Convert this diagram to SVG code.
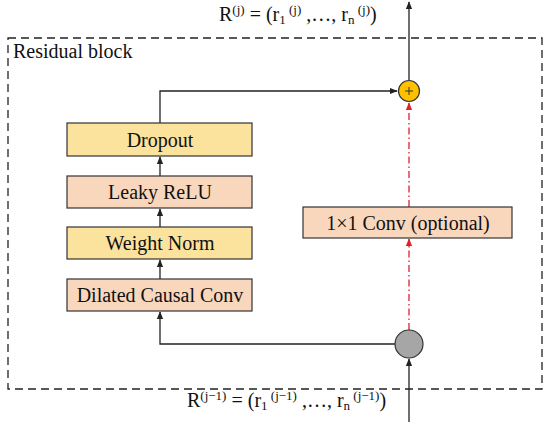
<svg xmlns="http://www.w3.org/2000/svg" width="550" height="422" viewBox="0 0 550 422">
<style>
text{font-family:"Liberation Serif","Times New Roman",serif;fill:#111}
.lbl{font-size:20px;text-anchor:middle}
.y{fill:#FBE29D;stroke:#333;stroke-width:1.2}
.p{fill:#F9D7BD;stroke:#333;stroke-width:1.2}
.ln{fill:none;stroke:#222;stroke-width:1.3}
.rd{fill:none;stroke:#E0202A;stroke-width:1.3;stroke-dasharray:7,3,1.5,3}
.sup{font-size:13px}
.f{font-size:20px}
</style>
<defs>
<marker id="ah" viewBox="0 0 10 10" refX="9" refY="5" markerWidth="6" markerHeight="6" orient="auto"><path d="M0,1 L10,5 L0,9 z" fill="#222"/></marker>
<marker id="ahr" viewBox="0 0 10 10" refX="9" refY="5" markerWidth="6" markerHeight="6" orient="auto"><path d="M0,1 L10,5 L0,9 z" fill="#E0202A"/></marker>
</defs>
<rect x="8" y="38" width="534" height="351" fill="none" stroke="#222" stroke-width="1.3" stroke-dasharray="8,5"/>
<text class="f" x="13" y="58">Residual block</text>
<g id="connectors">
<path class="ln" d="M409,422 V359" marker-end="url(#ah)"/>
<path class="ln" d="M395,344 H160 V312" marker-end="url(#ah)"/>
<path class="ln" d="M160,279 V260" marker-end="url(#ah)"/>
<path class="ln" d="M160,227 V209" marker-end="url(#ah)"/>
<path class="ln" d="M160,176 V157" marker-end="url(#ah)"/>
<path class="ln" d="M160,123 V91 H397" marker-end="url(#ah)"/>
<path class="ln" d="M409,80 V2" marker-end="url(#ah)"/>
<path class="rd" d="M409,330 V239" marker-end="url(#ahr)"/>
<path class="rd" d="M409,207 V103" marker-end="url(#ahr)"/>
</g>
<g id="dropout"><rect class="y" x="67" y="123" width="185" height="33"/><text class="lbl" x="160" y="147">Dropout</text></g>
<g id="leaky"><rect class="p" x="67" y="176" width="185" height="32"/><text class="lbl" x="160" y="199">Leaky ReLU</text></g>
<g id="weightnorm"><rect class="y" x="67" y="227" width="185" height="32"/><text class="lbl" x="160" y="250">Weight Norm</text></g>
<g id="dilated"><rect class="p" x="67" y="279" width="185" height="32"/><text class="lbl" x="160" y="302">Dilated Causal Conv</text></g>
<g id="conv1x1"><rect class="p" x="303" y="207" width="209" height="31"/><text class="lbl" x="408" y="230">1×1 Conv (optional)</text></g>
<g id="add"><circle cx="409" cy="91" r="10.5" fill="#FFC000" stroke="#333" stroke-width="1.2"/><path d="M405,91 H413 M409,87 V95" stroke="#333" stroke-width="1"/></g>
<g id="split"><circle cx="409" cy="344" r="14" fill="#A6A6A6" stroke="#333" stroke-width="1.2"/></g>
<text class="f" x="219" y="21">R<tspan class="sup" dy="-7">(j)</tspan><tspan dy="7"> = (r</tspan><tspan class="sup" dy="3">1</tspan><tspan class="sup" dy="-10"> (j)</tspan><tspan dy="7"> ,…, r</tspan><tspan class="sup" dy="3">n</tspan><tspan class="sup" dy="-10"> (j)</tspan><tspan dy="7">)</tspan></text>
<text class="f" x="187" y="407">R<tspan class="sup" dy="-7">(j−1)</tspan><tspan dy="7"> = (r</tspan><tspan class="sup" dy="3">1</tspan><tspan class="sup" dy="-10"> (j−1)</tspan><tspan dy="7"> ,…, r</tspan><tspan class="sup" dy="3">n</tspan><tspan class="sup" dy="-10"> (j−1)</tspan><tspan dy="7">)</tspan></text>
</svg>
